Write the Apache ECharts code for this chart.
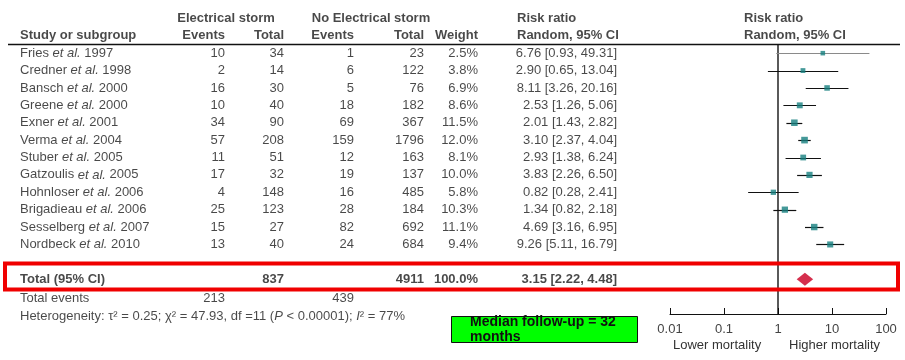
<!DOCTYPE html>
<html><head><meta charset="utf-8">
<script src="https://cdn.jsdelivr.net/npm/echarts@6/dist/echarts.min.js"></script>
<style>html,body{margin:0;padding:0;background:#fff}#c{width:905px;height:360px}</style>
</head><body><div id="c"></div>
<script>
// ---- data ----
const authors = ['Fries','Credner','Bansch','Greene','Exner','Verma','Stuber','Gatzoulis','Hohnloser','Brigadieau','Sesselberg','Nordbeck'];
const years = [1997,1998,2000,2000,2001,2004,2005,2005,2006,2006,2007,2010];
const esEvents = [10,2,16,10,34,57,11,17,4,25,15,13];
const esTotal = [34,14,30,40,90,208,51,32,148,123,27,40];
const noEvents = [1,6,5,18,69,159,12,19,16,28,82,24];
const noTotal = [23,122,76,182,367,1796,163,137,485,184,692,684];
const weights = [2.5,3.8,6.9,8.6,11.5,12.0,8.1,10.0,5.8,10.3,11.1,9.4];
const rr = [6.76,2.90,8.11,2.53,2.01,3.10,2.93,3.83,0.82,1.34,4.69,9.26];
const ciLo = [0.93,0.65,3.26,1.26,1.43,2.37,1.38,2.26,0.28,0.82,3.16,5.11];
const ciHi = [49.31,13.04,20.16,5.06,2.82,4.04,6.24,6.50,2.41,2.18,6.95,16.79];
const totalES = 837, totalNo = 4911, totalWeight = '100.0%';
const pooled = [3.15, 2.22, 4.48];
const eventsES = 213, eventsNo = 439;
const xTicks = [0.01, 0.1, 1, 10, 100];

// ---- layout ----
const COL = {name:20, esEv:225, esTot:284, noEv:354, noTot:424, w:478, rr:617};
const ROW = {h1:-2, h2:-1, rule:-0.5, total:13, events:14.1, het:15.15, axis:15};
const FONT = "'Liberation Sans', Arial, Helvetica, sans-serif";
const TXT = '#1a1a1a';
const FS = 13;

const chart = echarts.init(document.getElementById('c'), null, {renderer:'canvas'});

function textSeries(points, pos, extra) {
  return {
    type:'scatter', xAxisIndex:1, yAxisIndex:1, symbolSize:0, silent:true, clip:false,
    data: points,
    label: Object.assign({
      show:true, position:pos, distance:0, fontSize:FS, fontFamily:FONT, color:TXT,
      formatter: p => p.data[2],
      rich: {
        n:{fontSize:FS, fontFamily:FONT, color:TXT},
        i:{fontSize:FS, fontFamily:FONT, color:TXT, fontStyle:'italic'}
      }
    }, extra || {})
  };
}

const idx = authors.map((_, i) => i);
const fmt2 = v => v.toFixed(2);

const series = [];
// headers
series.push(textSeries([[COL.name, ROW.h2, 'Study or subgroup']], 'right', {fontWeight:'bold'}));
series.push(textSeries([
  [COL.esEv, ROW.h2, 'Events'], [COL.esTot, ROW.h2, 'Total'],
  [COL.noEv, ROW.h2, 'Events'], [COL.noTot, ROW.h2, 'Total'], [COL.w, ROW.h2, 'Weight']
], 'left', {fontWeight:'bold'}));
series.push(textSeries([[226, ROW.h1, 'Electrical storm'], [371, ROW.h1, 'No Electrical storm']], 'inside', {fontWeight:'bold'}));
series.push(textSeries([[517, ROW.h1, 'Risk ratio'], [517, ROW.h2, 'Random, 95% CI'],
  [744, ROW.h1, 'Risk ratio'], [744, ROW.h2, 'Random, 95% CI']], 'right', {fontWeight:'bold'}));
// study names
series.push(textSeries(idx.map(i => [COL.name, i, '{n|' + authors[i] + ' }{i|et al.}{n| ' + years[i] + '}']), 'right'));
// numbers
series.push(textSeries([].concat(
  idx.map(i => [COL.esEv, i, String(esEvents[i])]),
  idx.map(i => [COL.esTot, i, String(esTotal[i])]),
  idx.map(i => [COL.noEv, i, String(noEvents[i])]),
  idx.map(i => [COL.noTot, i, String(noTotal[i])]),
  idx.map(i => [COL.w, i, weights[i].toFixed(1) + '%']),
  idx.map(i => [COL.rr, i, fmt2(rr[i]) + ' [' + fmt2(ciLo[i]) + ', ' + fmt2(ciHi[i]) + ']']),
  [[COL.esEv, ROW.events, String(eventsES)], [COL.noEv, ROW.events, String(eventsNo)]]
), 'left'));
// total row
series.push(textSeries([[COL.name, ROW.total, 'Total (95% CI)']], 'right', {fontWeight:'bold'}));
series.push(textSeries([
  [COL.esTot, ROW.total, String(totalES)], [COL.noTot, ROW.total, String(totalNo)],
  [COL.w, ROW.total, totalWeight],
  [COL.rr, ROW.total, fmt2(pooled[0]) + ' [' + fmt2(pooled[1]) + ', ' + fmt2(pooled[2]) + ']']
], 'left', {fontWeight:'bold'}));
series.push(textSeries([[COL.name, ROW.events, 'Total events'],
  [COL.name, ROW.het, '{n|Heterogeneity: τ² = 0.25; χ² = 47.93, df =11 (}{i|P}{n| < 0.00001); }{i|I}{n|² = 77%}']], 'right'));
// header rule
series.push({type:'line', xAxisIndex:1, yAxisIndex:1, silent:true, symbol:'none',
  data:[[8, ROW.rule],[900, ROW.rule]], lineStyle:{color:'#111', width:1.5}});

// forest: vertical line at 1
series.push({type:'line', xAxisIndex:0, yAxisIndex:0, silent:true, symbol:'none',
  data:[[1, ROW.rule],[1, ROW.axis]], lineStyle:{color:'#000', width:1.3}, z:1});
// CI lines
series.push({type:'custom', xAxisIndex:0, yAxisIndex:0, silent:true, z:2,
  data: idx.map(i => [ciLo[i], ciHi[i], i]),
  encode:{x:[0,1], y:2},
  renderItem:(params, api) => {
    const a = api.coord([api.value(0), api.value(2)]);
    const b = api.coord([api.value(1), api.value(2)]);
    const y = Math.round(a[1]) + 0.5;
    return {type:'line', shape:{x1:a[0], y1:y, x2:b[0], y2:y},
      style:{stroke: params.dataIndex === 0 ? '#8a8a8a' : '#111', lineWidth:1.2}};
  }});
// squares
series.push({type:'scatter', xAxisIndex:0, yAxisIndex:0, silent:true, z:3, symbol:'rect',
  data: idx.map(i => [rr[i], i, weights[i]]),
  symbolSize: v => 4 + 0.22 * v[2],
  itemStyle:{color:'#16807f'}});
// pooled diamond
series.push({type:'custom', xAxisIndex:0, yAxisIndex:0, silent:true, z:3,
  data:[[pooled[1], pooled[0], pooled[2], ROW.total]],
  encode:{x:[0,2], y:3},
  renderItem:(params, api) => {
    const l = api.coord([api.value(0), api.value(3)]);
    const c = api.coord([api.value(1), api.value(3)]);
    const r = api.coord([api.value(2), api.value(3)]);
    const h = 6.5;
    return {type:'polygon', shape:{points:[[l[0], c[1]], [c[0], c[1]-h], [r[0], c[1]], [c[0], c[1]+h]]},
      style:{fill:'#d52f4d'}};
  }});

chart.setOption({
  animation:false,
  backgroundColor:'#fff',
  grid:[
    {left:670, width:216, top:1, height:313},
    {left:0, width:905, top:1, height:330.4}
  ],
  xAxis:[
    {type:'log', logBase:10, min:xTicks[0], max:xTicks[xTicks.length-1], gridIndex:0,
     axisLine:{show:true, onZero:false, lineStyle:{color:'#111', width:1}},
     axisTick:{show:true, inside:true, length:6, lineStyle:{color:'#111'}},
     splitLine:{show:false},
     axisLabel:{show:true, margin:9, fontSize:FS, fontFamily:FONT, color:'#444',
       formatter: v => { const t = xTicks.find(x => Math.abs(Math.log10(x) - Math.log10(v)) < 1e-6); return t === undefined ? '' : String(t); }}},
    {type:'value', min:0, max:905, gridIndex:1, show:false}
  ],
  yAxis:[
    {type:'value', min:-3, max:15, inverse:true, gridIndex:0, show:false},
    {type:'value', min:-3, max:16, inverse:true, gridIndex:1, show:false}
  ],
  series: series,
  graphic:[
    {type:'rect', z:10, silent:true, shape:{x:5, y:263.5, width:893, height:26},
     style:{fill:'none', stroke:'#f00000', lineWidth:4}},
    {type:'group', z:10, silent:true, left:451, top:315, children:[
      {type:'rect', shape:{x:0.5, y:0.5, width:186, height:26}, style:{fill:'#00ff00', stroke:'#111', lineWidth:1}},
      {type:'text', x:19, y:-1, style:{text:'Median follow-up = 32', fontSize:14, fontWeight:'bold', fontFamily:FONT, fill:'#111'}},
      {type:'text', x:19, y:14, style:{text:'months', fontSize:14, fontWeight:'bold', fontFamily:FONT, fill:'#111'}}
    ]},
    {type:'text', z:11, silent:true, left:673, top:339,
     style:{text:'Lower mortality', fontSize:FS, fontFamily:FONT, fill:'#333'}},
    {type:'text', z:11, silent:true, left:789, top:339,
     style:{text:'Higher mortality', fontSize:FS, fontFamily:FONT, fill:'#333'}}
  ]
});
</script></body></html>
